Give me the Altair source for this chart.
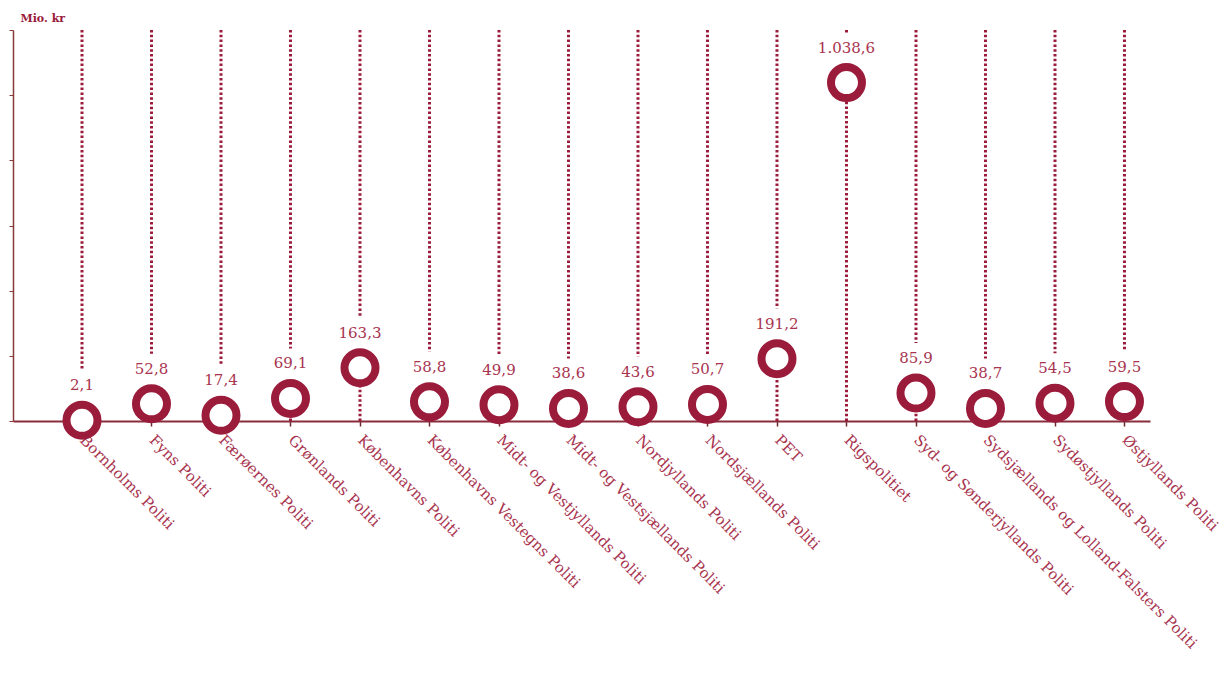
import altair as alt
import pandas as pd

categories = [
    "Bornholms Politi", "Fyns Politi", "Færøernes Politi", "Grønlands Politi",
    "Københavns Politi", "Københavns Vestegns Politi", "Midt- og Vestjyllands Politi",
    "Midt- og Vestsjællands Politi", "Nordjyllands Politi", "Nordsjællands Politi",
    "PET", "Rigspolitiet", "Syd- og Sønderjyllands Politi",
    "Sydsjællands og Lolland-Falsters Politi", "Sydøstjyllands Politi", "Østjyllands Politi",
]
values = [2.1, 52.8, 17.4, 69.1, 163.3, 58.8, 49.9, 38.6, 43.6, 50.7, 191.2, 1038.6, 85.9, 38.7, 54.5, 59.5]
value_labels = ["2,1", "52,8", "17,4", "69,1", "163,3", "58,8", "49,9", "38,6", "43,6", "50,7",
                "191,2", "1.038,6", "85,9", "38,7", "54,5", "59,5"]
y_top = 1200

df = pd.DataFrame({"cat": categories, "val": values, "lbl": value_labels,
                   "top": [y_top] * len(values), "zero": [0] * len(values)})

RED = "#9b1b3b"
TXT = "#a8344f"
FONT = "DejaVu Serif"

x_enc = alt.X("cat:N", sort=categories,
              scale=alt.Scale(type="point", padding=0.68, align=0.73),
              axis=alt.Axis(title=None, labelAngle=45, labelAlign="left", labelBaseline="middle",
                            labelPadding=11, labelFontSize=15, labelFont=FONT, labelColor=TXT,
                            domainColor="#8b2c3c", domainWidth=2, tickColor="#6b2a30", tickSize=5,
                            tickWidth=1.5, labelOverlap=False, labelLimit=0))
y_scale = alt.Scale(domain=[0, y_top], nice=False)

top_rule = alt.Chart(df).mark_rule(color=RED, strokeWidth=3, strokeDash=[2.5, 2.3], y2Offset=-50).encode(
    x=x_enc,
    y=alt.Y("top:Q", scale=y_scale,
            axis=alt.Axis(title="Mio. kr", titleAngle=0, titleX=7, titleY=-12, titleAlign="left",
                          titleBaseline="middle", titleFontSize=11, titleFont=FONT, titleFontWeight="bold",
                          titleColor=RED, labels=False, values=[0, 200, 400, 600, 800, 1000, 1200],
                          tickSize=4, tickColor="#8b3a3a", domainColor="#8b3a3a", domainWidth=1.5, grid=False)),
    y2="val:Q",
)
bottom_rule = alt.Chart(df).mark_rule(color=RED, strokeWidth=3, strokeDash=[2.5, 2.3]).encode(
    x=alt.X("cat:N", sort=categories), y=alt.Y("zero:Q", scale=y_scale), y2="val:Q"
)
points = alt.Chart(df).mark_point(shape="circle", size=961, filled=False, fill="white", fillOpacity=1,
                                  stroke=RED, strokeWidth=8, opacity=1).encode(
    x=alt.X("cat:N", sort=categories), y=alt.Y("val:Q", scale=y_scale)
)
texts = alt.Chart(df).mark_text(dy=-35, baseline="middle", align="center", font=FONT, fontSize=15, color=TXT).encode(
    x=alt.X("cat:N", sort=categories), y=alt.Y("val:Q", scale=y_scale), text="lbl:N"
)

chart = alt.layer(top_rule, bottom_rule, points, texts).properties(
    width=1137, height=391,
    autosize=alt.AutoSizeParams(type="none"),
    padding={"left": 5, "top": 22, "right": 71, "bottom": 248},
    background="white",
).configure_view(stroke=None, strokeWidth=0)

chart.save("out.html", embed_options={"renderer": "svg", "actions": False})
